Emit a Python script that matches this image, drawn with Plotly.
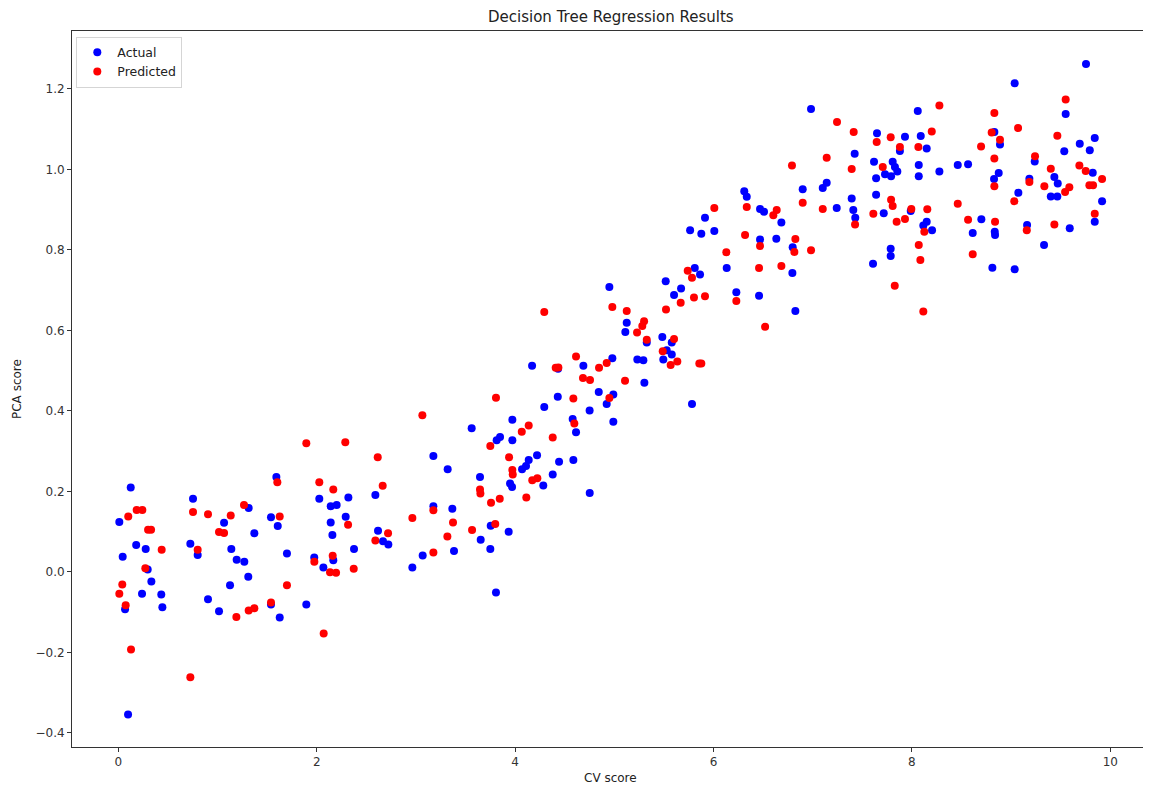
import plotly.graph_objects as go

# ---- Actual (blue) ----
actual_x = [
    0.125, 0.01, 0.18, 0.276, 0.044, 0.296, 0.333, 0.239, 0.433, 0.444, 0.068, 0.098,
    0.753, 0.726, 0.80, 0.904, 1.015, 1.066, 1.314, 1.371, 1.139, 1.193, 1.27, 1.31,
    1.126, 1.539, 1.607, 1.593, 1.70, 1.539, 1.627, 1.895, 1.975,
    2.026, 2.141, 2.201, 2.319, 2.292, 2.141, 2.158, 2.376, 2.067, 2.167, 2.591, 2.618,
    2.668, 2.722, 2.964, 3.068, 3.176, 3.32, 3.176, 3.367, 3.384, 3.562, 3.646, 3.754,
    3.653, 3.75, 3.807, 3.935, 3.972, 3.972, 3.814, 3.848, 4.07, 4.137, 4.11, 3.949,
    3.969, 4.221,
    4.95, 4.171, 4.433, 4.688, 4.98, 4.843, 4.99, 4.923, 4.43, 4.294, 4.751, 4.99,
    4.614, 4.58, 4.443, 4.587, 4.379, 4.284, 4.752, 5.125, 5.111, 5.327, 5.232, 5.293,
    5.303, 5.484, 5.579, 5.528, 5.494, 5.579, 5.783, 5.518, 5.602, 5.673, 5.811, 5.864,
    6.133, 6.23,
    6.983, 8.059, 7.648, 7.93, 8.089, 8.149, 7.879, 7.423, 7.618, 7.806, 7.829, 7.853,
    7.729, 7.79, 7.639, 8.069, 8.069, 6.899, 7.101, 7.141, 7.393, 7.639, 7.242, 7.409,
    7.429, 7.716, 7.988, 8.115, 8.149, 6.31, 6.335, 6.469, 6.509, 6.684, 5.914, 6.008,
    5.877, 5.764, 6.469, 6.633, 6.798, 6.795, 6.459, 6.825, 7.786, 7.786, 7.608,
    9.755, 9.036, 9.55, 8.277, 8.462, 8.566, 8.831, 8.888, 8.875, 8.828, 9.692, 9.843,
    9.793, 9.536, 9.238, 9.184, 9.436, 9.47, 9.40, 9.466, 9.823, 9.917, 9.843, 9.073,
    9.591, 9.332, 9.161, 8.70, 8.613, 8.835, 8.838, 8.811, 9.036, 8.203,
]
actual_y = [
    0.210, 0.124, 0.067, 0.057, 0.038, 0.006, -0.024, -0.054, -0.056, -0.088, -0.093, -0.354,
    0.182, 0.070, 0.042, -0.068, -0.098, 0.122, 0.159, 0.096, 0.057, 0.030, 0.025, -0.012,
    -0.033, 0.136, 0.114, 0.236, 0.046, -0.081, -0.113, -0.081, 0.036,
    0.182, 0.163, 0.166, 0.185, 0.137, 0.123, 0.092, 0.057, 0.011, 0.029, 0.191, 0.102,
    0.076, 0.068, 0.011, 0.041, 0.288, 0.255, 0.163, 0.157, 0.052, 0.357, 0.236, 0.115,
    0.080, 0.057, -0.051, 0.100, 0.378, 0.327, 0.327, 0.335, 0.255, 0.278, 0.263, 0.220,
    0.211, 0.290,
    0.708, 0.512, 0.505, 0.512, 0.531, 0.447, 0.441, 0.417, 0.435, 0.410, 0.401, 0.373,
    0.347, 0.380, 0.274, 0.278, 0.242, 0.215, 0.196, 0.619, 0.596, 0.570, 0.528, 0.526,
    0.470, 0.584, 0.570, 0.551, 0.528, 0.540, 0.417, 0.722, 0.688, 0.704, 0.755, 0.739,
    0.755, 0.695,
    1.150, 1.145, 1.090, 1.081, 1.083, 1.052, 1.046, 1.039, 1.019, 1.019, 1.006, 0.995,
    0.988, 0.983, 0.978, 1.011, 0.983, 0.951, 0.954, 0.967, 0.928, 0.937, 0.904, 0.899,
    0.880, 0.891, 0.897, 0.861, 0.870, 0.946, 0.932, 0.902, 0.895, 0.868, 0.880, 0.847,
    0.840, 0.849, 0.826, 0.828, 0.807, 0.743, 0.686, 0.648, 0.803, 0.785, 0.766,
    1.262, 1.214, 1.138, 0.995, 1.011, 1.013, 1.093, 1.062, 0.991, 0.976, 1.064, 1.078,
    1.048, 1.045, 1.020, 0.977, 0.981, 0.965, 0.933, 0.933, 0.992, 0.921, 0.870, 0.942,
    0.854, 0.812, 0.862, 0.876, 0.842, 0.845, 0.837, 0.756, 0.752, 0.849,
]

# ---- Predicted (red) ----
pred_x = [
    0.10, 0.185, 0.242, 0.30, 0.33, 0.437, 0.272, 0.04, 0.01, 0.074, 0.128, 0.726,
    0.753, 0.80, 0.904, 1.133, 1.015, 1.066, 1.267, 1.627, 1.70, 1.19, 1.314, 1.371,
    1.539, 1.603, 1.976,
    1.895, 2.288, 2.615, 2.026, 2.167, 2.665, 2.316, 2.719, 2.591, 2.161, 2.134, 2.195,
    2.373, 3.065, 2.964, 3.176, 3.176, 3.317, 3.374, 3.807, 3.75, 3.939, 3.972, 3.976,
    4.067, 4.137, 3.646, 3.65, 3.757, 3.845, 3.566, 3.80, 4.113, 4.173, 4.224, 2.07,
    4.294, 4.98, 5.125, 5.30, 5.282, 5.229, 5.327, 4.614, 4.436, 4.409, 4.846, 4.923,
    4.684, 4.755, 5.108, 4.95, 4.587, 4.597, 4.379, 5.488, 5.602, 5.568, 5.635, 5.857,
    5.877, 5.521, 5.669, 5.803, 5.914, 5.74, 5.783, 6.129, 6.23,
    7.245, 7.413, 7.645, 7.786, 7.879, 8.065, 7.141, 6.791, 7.393, 7.706, 6.899, 7.101,
    7.611, 7.79, 7.806, 7.846, 7.93, 7.994, 8.155, 7.427, 8.125, 8.069, 8.085, 7.827,
    8.115, 6.008, 6.335, 6.637, 6.603, 6.318, 6.469, 6.825, 6.815, 6.983, 6.459, 6.684,
    6.52,
    8.277, 8.20, 8.831, 8.804, 8.888, 9.07, 8.697, 8.831, 8.831, 9.55, 9.466, 9.241,
    9.40, 9.184, 9.335, 9.587, 9.544, 9.688, 9.752, 9.789, 9.826, 9.917, 9.843, 9.032,
    8.462, 8.566, 8.838, 9.158, 9.436, 8.613,
]
pred_y = [
    0.138, 0.154, 0.154, 0.105, 0.105, 0.055, 0.009, -0.031, -0.054, -0.083, -0.193, -0.262,
    0.149, 0.055, 0.143, 0.140, 0.099, 0.097, 0.166, 0.138, -0.033, -0.112, -0.096, -0.090,
    -0.076, 0.223, 0.025,
    0.320, 0.322, 0.285, 0.223, 0.205, 0.214, 0.117, 0.096, 0.078, 0.040, -0.001, -0.002,
    0.008, 0.389, 0.134, 0.153, 0.048, 0.088, 0.123, 0.433, 0.313, 0.285, 0.253, 0.242,
    0.348, 0.364, 0.205, 0.195, 0.172, 0.182, 0.104, 0.119, 0.185, 0.228, 0.233, -0.153,
    0.646, 0.658, 0.648, 0.623, 0.611, 0.595, 0.577, 0.535, 0.508, 0.507, 0.507, 0.519,
    0.482, 0.477, 0.475, 0.432, 0.431, 0.369, 0.334, 0.548, 0.579, 0.514, 0.523, 0.518,
    0.518, 0.652, 0.669, 0.682, 0.685, 0.748, 0.731, 0.794, 0.673,
    1.118, 1.093, 1.068, 1.080, 1.056, 1.056, 1.029, 1.010, 1.001, 1.006, 0.917, 0.902,
    0.890, 0.925, 0.909, 0.870, 0.877, 0.902, 0.901, 0.863, 0.845, 0.812, 0.775, 0.711,
    0.647, 0.904, 0.907, 0.899, 0.886, 0.837, 0.810, 0.827, 0.795, 0.799, 0.755, 0.760,
    0.609,
    1.159, 1.094, 1.140, 1.092, 1.074, 1.103, 1.057, 1.027, 0.958, 1.174, 1.084, 1.033,
    1.002, 0.969, 0.958, 0.956, 0.944, 1.010, 0.996, 0.961, 0.961, 0.976, 0.890, 0.921,
    0.915, 0.875, 0.870, 0.849, 0.863, 0.789,
]

title_text = "Decision Tree Regression Results"
x_label = "CV score"
y_label = "PCA score"
x_ticks = [0, 2, 4, 6, 8, 10]
y_ticks = [-0.4, -0.2, 0.0, 0.2, 0.4, 0.6, 0.8, 1.0, 1.2]

FONT = "DejaVu Sans, Arial, sans-serif"
AXCOL = "#333333"
# page body has an 8px margin, so the figure starts at (8, 8)
W, H = 1143, 778
ML, MR, MT, MB = 64, 2, 23, 39

fig = go.Figure()
fig.add_trace(go.Scatter(x=actual_x, y=actual_y, mode="markers", name="Actual",
                         marker=dict(color="#0000ff", size=8, line=dict(width=0))))
fig.add_trace(go.Scatter(x=pred_x, y=pred_y, mode="markers", name="Predicted",
                         marker=dict(color="#ff0000", size=8, line=dict(width=0))))

fig.update_layout(
    width=W, height=H,
    margin=dict(l=ML, r=MR, t=MT, b=MB, autoexpand=False),
    paper_bgcolor="white", plot_bgcolor="white",
    font=dict(family=FONT, size=12, color="#222222"),
    showlegend=True,
    legend=dict(x=0.004, y=0.992, xanchor="left", yanchor="top",
                bgcolor="rgba(255,255,255,0.8)", bordercolor="#d5d5d5", borderwidth=1,
                font=dict(family=FONT, size=12.5, color="#222222"),
                itemsizing="trace", tracegroupgap=0, itemwidth=30),
    annotations=[
        dict(text=title_text, xref="paper", yref="paper", x=0.5, y=1,
             xanchor="center", yanchor="middle", yshift=(MT - 9), showarrow=False,
             font=dict(family=FONT, size=15, color="#222222")),
        dict(text=x_label, xref="paper", yref="paper", x=0.5, y=0,
             xanchor="center", yanchor="middle", yshift=-(770 - (H - MB)), showarrow=False,
             font=dict(family=FONT, size=12, color="#222222")),
        dict(text=y_label, xref="paper", yref="paper", x=0, y=0.5,
             xanchor="center", yanchor="middle", xshift=-(ML - 9), textangle=-90,
             showarrow=False,
             font=dict(family=FONT, size=12, color="#222222")),
    ],
)
fig.update_xaxes(
    range=[-0.467, 10.39], tickmode="array", tickvals=x_ticks,
    ticktext=[str(v) for v in x_ticks], automargin=False,
    showgrid=False, zeroline=False,
    showline=True, mirror=True, linecolor=AXCOL, linewidth=1,
    ticks="outside", ticklen=4, tickcolor=AXCOL, tickwidth=1,
    tickfont=dict(family=FONT, size=12, color="#333333"),
)
fig.update_yaxes(
    range=[-0.435, 1.344], tickmode="array", tickvals=y_ticks,
    ticktext=[("\u2212" if v < 0 else "") + f"{abs(v):.1f}" for v in y_ticks],
    automargin=False,
    showgrid=False, zeroline=False,
    showline=True, mirror=True, linecolor=AXCOL, linewidth=1,
    ticks="outside", ticklen=4, tickcolor=AXCOL, tickwidth=1,
    tickfont=dict(family=FONT, size=12, color="#333333"),
)

fig.write_html("out.html")
